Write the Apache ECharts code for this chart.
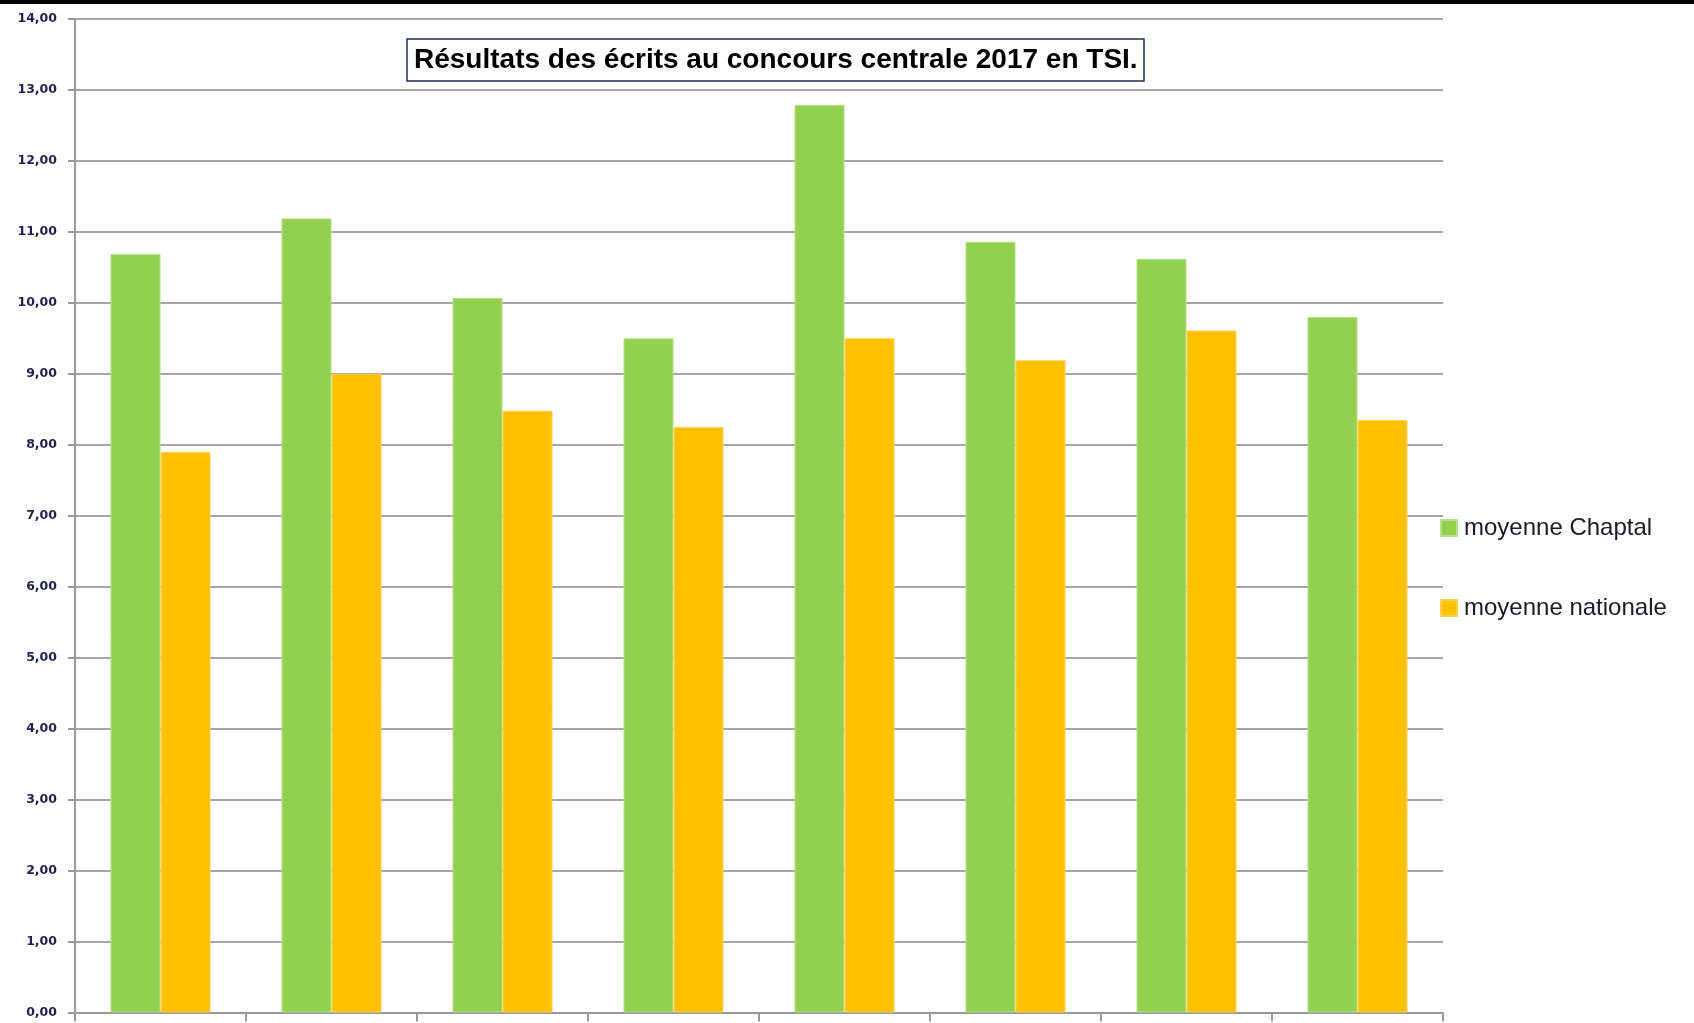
<!DOCTYPE html>
<html>
<head>
<meta charset="utf-8">
<script src="https://cdn.jsdelivr.net/npm/echarts@6/dist/echarts.min.js"></script>
<style>
  html, body { margin: 0; padding: 0; background: #fff; }
  #chart { width: 1694px; height: 1023px; }
</style>
</head>
<body>
<div id="chart"></div>
<script>
// données
const categories = ['', '', '', '', '', '', '', '']
const moyenneChaptal = [10.69, 11.19, 10.07, 9.50, 12.79, 10.86, 10.62, 9.80]
const moyenneNationale = [7.90, 9.00, 8.48, 8.25, 9.50, 9.19, 9.61, 8.35]
const yTicks = [0, 14, 1] // min, max, pas

const myChart = echarts.init(document.getElementById('chart'))

myChart.setOption({
  animation: false,
  backgroundColor: '#ffffff',
  title: {
    text: 'Résultats des écrits au concours centrale 2017 en TSI.',
    left: 407,
    top: 39,
    padding: [7, 7, 7, 7],
    borderColor: '#1f2d5c',
    borderWidth: 1.5,
    backgroundColor: '#ffffff',
    textStyle: {
      fontFamily: 'Liberation Sans',
      fontWeight: 'bold',
      fontSize: 28,
      color: '#000000'
    }
  },
  legend: {
    orient: 'vertical',
    left: 1435,
    top: 511,
    itemWidth: 16,
    itemHeight: 16,
    itemGap: 56,
    icon: 'rect',
    textStyle: {
      fontFamily: 'Liberation Sans',
      fontSize: 24,
      color: '#1a1a2a',
      padding: [0, 0, 0, 2]
    },
    data: ['moyenne Chaptal', 'moyenne nationale']
  },
  grid: {
    left: 75,
    right: 251,
    top: 19,
    bottom: 10.5,
    containLabel: false
  },
  xAxis: {
    type: 'category',
    data: categories,
    axisLine: { lineStyle: { color: '#999999', width: 2 } },
    axisTick: { show: true, length: 9, lineStyle: { color: '#999999', width: 2 } },
    axisLabel: { show: false }
  },
  yAxis: {
    type: 'value',
    min: yTicks[0],
    max: yTicks[1],
    interval: yTicks[2],
    axisLine: { show: true, lineStyle: { color: '#999999', width: 2 } },
    axisTick: { show: true, length: 7, lineStyle: { color: '#999999', width: 2 } },
    axisLabel: {
      margin: 18,
      fontFamily: 'DejaVu Sans',
      fontSize: 12.5,
      fontWeight: 'bold',
      color: '#1f1f4f',
      formatter: (v) => v.toFixed(2).replace('.', ',')
    },
    splitLine: { lineStyle: { color: '#a6a6a6', width: 2 } }
  },
  series: [
    {
      name: 'moyenne Chaptal',
      type: 'bar',
      data: moyenneChaptal,
      barWidth: 50,
      barGap: '0%',
      itemStyle: { color: '#92d050', borderColor: '#b4e08a', borderWidth: 1 }
    },
    {
      name: 'moyenne nationale',
      type: 'bar',
      data: moyenneNationale,
      barWidth: 50,
      itemStyle: { color: '#ffc000', borderColor: '#ffd24d', borderWidth: 1 }
    }
  ],
  graphic: [
    {
      type: 'rect',
      left: 0,
      top: 0,
      shape: { width: 1694, height: 4 },
      style: { fill: '#000000' },
      z: 100
    }
  ]
})
</script>
</body>
</html>
